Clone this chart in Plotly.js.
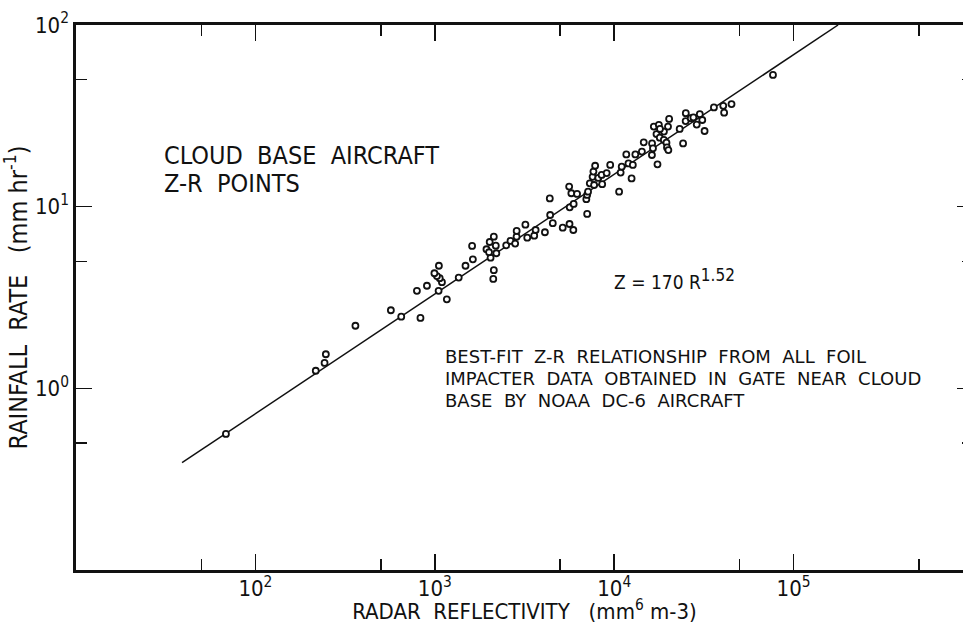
<!DOCTYPE html>
<html>
<head>
<meta charset="utf-8">
<script src="https://cdn.plot.ly/plotly-3.0.1.min.js"></script>
<style>
  html, body { margin: 0; padding: 0; overflow: hidden; background: #fff; }
  #chart { width: 975px; height: 624px; }
</style>
</head>
<body>
<div id="chart"></div>
<script>
// Radar reflectivity Z (mm^6 m^-3) of the cloud-base aircraft Z-R points
const zValues = [
  68.5, 217, 243, 247, 361,
  569, 650, 832, 795, 904, 1050, 1167, 1096, 1065, 1028, 995, 1054, 1359, 1483, 1630, 1614,
  2118, 2133, 2046, 1941, 2006, 2203, 2023, 2133, 2188, 2500, 2643, 2805, 2857, 2860,
  3199, 3276, 3583, 3648, 4110, 4396, 4546,
  5164, 5636, 5918, 5649, 5943, 4375, 5610, 5770, 6209, 7068, 6993, 7063, 7150, 7311,
  7727, 7580, 7660, 7830, 8150, 8570, 8510, 9080, 9500, 10650, 10860, 11010, 11680,
  12010, 12500, 12700, 13120, 14270, 14610, 16260, 16450, 16230, 17430, 17210, 17950,
  18910, 19560, 19690, 20040, 24210, 18930, 31900,
  16630, 17740, 17990, 19950, 20240, 23170, 25070, 25020, 26710, 27640, 28840, 30000,
  30970, 35960, 40540, 41000, 45080, 76740
];
// Rainfall rate R (mm hr^-1) for the same points
const rValues = [
  0.561, 1.25, 1.38, 1.54, 2.21,
  2.69, 2.48, 2.44, 3.44, 3.67, 3.44, 3.09, 3.84, 4.04, 4.15, 4.30, 4.73, 4.07, 4.73, 5.13, 6.08,
  4.00, 4.47, 5.24, 5.83, 5.61, 5.54, 6.39, 6.84, 6.10, 6.13, 6.48, 6.26, 6.84, 7.35,
  7.96, 6.75, 6.92, 7.44, 7.23, 9.00, 8.11,
  7.66, 8.03, 7.44, 9.92, 10.35, 11.1, 12.9, 11.85, 11.75, 9.12, 10.99, 11.6, 12.1, 13.45,
  13.16, 14.6, 15.6, 16.8, 14.4, 13.3, 14.95, 15.3, 16.97, 12.1, 15.4, 16.6, 19.4,
  17.3, 14.3, 16.97, 19.4, 20.1, 22.6, 22.3, 20.96, 19.25, 17.1, 25.1, 23.98,
  23.3, 22.5, 21.2, 20.5, 22.3, 25.9, 26.1,
  27.6, 28.2, 26.8, 27.6, 30.4, 26.8, 32.7, 29.6, 30.7, 31.0, 28.3, 32.3,
  30.0, 35.2, 35.9, 32.9, 36.7, 53.1
];
// Best-fit line Z = 170 R^1.52, end points
const fitZ = [39, 177000];
const fitR = [0.39, 100];

// Axis ticks (labelled decades; 5x minor ticks)
const xMajorVals = [100, 1000, 10000, 100000];
const xMajorText = ['10<sup>2</sup>', '10<sup>3</sup>', '10<sup>4</sup>', '10<sup>5</sup>'];
const xMinorVals = [50, 500, 5000, 50000, 500000];
const yMajorVals = [1, 10, 100];
const yMajorText = ['10<sup>0</sup>', '10<sup>1</sup>', '10<sup>2</sup>'];
const yMinorVals = [0.5, 5, 50];

const FONT = '"DejaVu Sans Condensed", "Liberation Sans Narrow", "Liberation Sans", Arial, sans-serif';
const FONT_WIDE = '"DejaVu Sans", "Liberation Sans", Arial, sans-serif';

const traces = [
  {
    x: fitZ, y: fitR, type: 'scatter', mode: 'lines',
    line: { color: '#111', width: 1.5 }, hoverinfo: 'skip'
  },
  {
    x: zValues, y: rValues, type: 'scatter', mode: 'markers',
    marker: { symbol: 'circle', size: 6, color: '#fff', line: { color: '#111', width: 1.8 } }
  }
];

function axisCommon() {
  return {
    type: 'log',
    tickmode: 'array',
    ticks: 'inside', ticklen: 16, tickwidth: 1.6, tickcolor: '#111',
    showline: true, linewidth: 2.6, linecolor: '#111', mirror: 'ticks',
    showgrid: false, zeroline: false,
    tickfont: { family: FONT, size: 22, color: '#111' },
    minor: { ticks: 'inside', ticklen: 11, tickwidth: 1.6, tickcolor: '#111', showgrid: false }
  };
}

const xaxis = Object.assign(axisCommon(), {
  range: [1, 6],
  tickvals: xMajorVals, ticktext: xMajorText,
  ticklabelstandoff: -3,
  title: { text: 'RADAR&nbsp; REFLECTIVITY&nbsp;&nbsp; (mm<sup>6</sup> m-3)', font: { family: FONT, size: 22, color: '#111' }, standoff: 7 }
});
xaxis.minor.tickvals = xMinorVals;

const yaxis = Object.assign(axisCommon(), {
  range: [-1, 2],
  tickvals: yMajorVals, ticktext: yMajorText,
  title: { text: 'RAINFALL&nbsp; RATE&nbsp;&nbsp; (mm hr<sup>-1</sup>)', font: { family: FONT, size: 25, color: '#111' }, standoff: 4 }
});
yaxis.minor.tickvals = yMinorVals;

function label(text, x, y, size, family) {
  return {
    text: text, xref: 'paper', yref: 'paper', x: x, y: y,
    xanchor: 'left', yanchor: 'middle', showarrow: false,
    font: { family: family || FONT, size: size, color: '#111' }
  };
}

const layout = {
  width: 975, height: 624,
  margin: { l: 76, r: 2, t: 25, b: 54, pad: 0 },
  paper_bgcolor: '#fff', plot_bgcolor: '#fff',
  showlegend: false,
  xaxis: xaxis, yaxis: yaxis,
  annotations: [
    label('CLOUD&nbsp; BASE&nbsp; AIRCRAFT', 0.0959, 0.761, 25),
    label('Z-R&nbsp; POINTS', 0.0959, 0.710, 25),
    label('Z = 170 R<sup><span style="font-size:17px">1.52</span></sup>', 0.5975, 0.534, 19),
    label('BEST-FIT&nbsp; Z-R&nbsp; RELATIONSHIP&nbsp; FROM&nbsp; ALL&nbsp; FOIL', 0.4091, 0.391, 18, FONT_WIDE),
    label('IMPACTER&nbsp; DATA&nbsp; OBTAINED&nbsp; IN&nbsp; GATE&nbsp; NEAR&nbsp; CLOUD', 0.4091, 0.3514, 18, FONT_WIDE),
    label('BASE&nbsp; BY&nbsp; NOAA&nbsp; DC-6&nbsp; AIRCRAFT', 0.4091, 0.3119, 18, FONT_WIDE)
  ]
};

Plotly.newPlot('chart', traces, layout, { staticPlot: true, displayModeBar: false });
</script>
</body>
</html>
